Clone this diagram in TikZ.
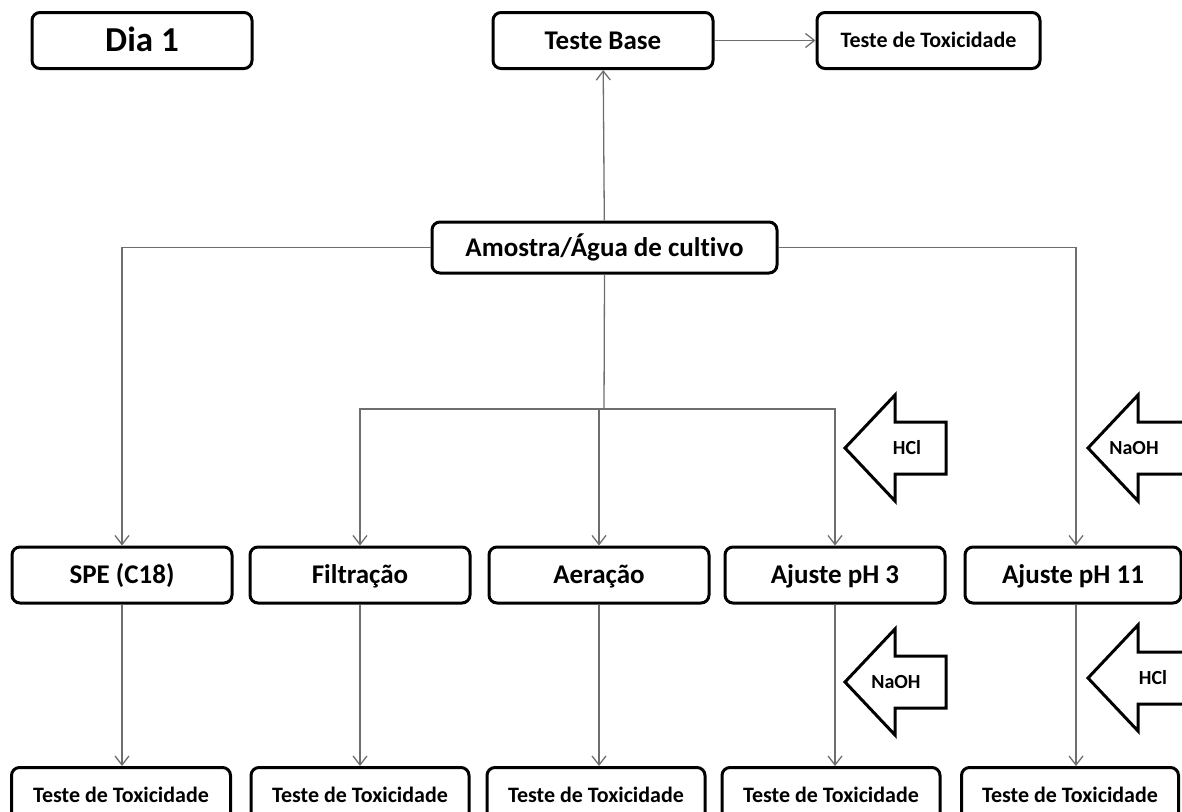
\documentclass[tikz,border=0pt]{standalone}
\usepackage{fontspec}
\setmainfont{Carlito}[Ligatures=NoCommon]
\usetikzlibrary{arrows.meta}
\definecolor{LINE}{HTML}{6E6E6E}

\begin{document}
\begin{tikzpicture}[x=1pt, y=-1pt,
    box/.style={draw=black, line width=3pt, rounded corners=8pt, inner sep=0pt,
        text height=17.4pt, text depth=0pt,
        font=\bfseries\fontsize{27}{30}\selectfont, minimum width=220pt, minimum height=56pt},
    toxbox/.style={box, text height=14.2pt, font=\bfseries\fontsize{22}{24}\selectfont},
    link/.style={draw=LINE, line width=1.3pt, -{Straight Barb[length=9pt, width=14pt]}},
    reagent/.style={draw=black, line width=3pt, line join=miter},
    reagentlabel/.style={inner sep=0pt, text height=13pt, text depth=0pt,
        font=\bfseries\fontsize{20}{24}\selectfont}]
            \useasboundingbox (0,0) rectangle (1182,811);
            \clip (0,0) rectangle (1182,811);

            \node[box, text height=22.5pt, font=\bfseries\fontsize{35}{38}\selectfont] (dia) at (142,40.5) {Dia 1};
            \node[box] (base) at (603,40.5) {Teste Base};
            \node[toxbox, minimum width=223pt] (toxbase) at (928.5,40.5) {Teste de Toxicidade};
            \node[box, minimum width=345pt, minimum height=51pt] (amostra) at (604.5,247.5) {Amostra/Água de cultivo};

            \node[box] (spe) at (122,575) {SPE (C18)};
            \node[box] (filt) at (360,575) {Filtração};
            \node[box] (aer) at (599,575) {Aeração};
            \node[box] (ph3) at (835,575) {Ajuste pH 3};
            \node[box, minimum width=216pt] (ph11) at (1073,575) {Ajuste pH 11};

            \node[toxbox, minimum width=219pt] (toxspe) at (121,795.5) {Teste de Toxicidade};
            \node[toxbox, minimum width=218pt] (toxfilt) at (360,795.5) {Teste de Toxicidade};
            \node[toxbox, minimum width=218pt] (toxaer) at (596,795.5) {Teste de Toxicidade};
            \node[toxbox, minimum width=218pt] (toxph3) at (831,795.5) {Teste de Toxicidade};
            \node[toxbox, minimum width=217pt] (toxph11) at (1070,795.5) {Teste de Toxicidade};

            \coordinate (split) at (604,409);

            \draw[link] (amostra) -- (base);
            \draw[link] (base) -- (toxbase);
            \draw[link] (amostra.west) -| (spe.north);
            \draw[link] (amostra.east) -| ([xshift=3pt]ph11.north);
            \draw[draw=LINE, line width=1.3pt] (amostra.south) -- (split);
            \draw[link] (split) -| (filt.north);
            \draw[link] (split) -| (ph3.north);
            \draw[link] (split -| aer.north) -- (aer.north);

            \draw[link] (spe) -- (spe |- toxspe.north);
            \draw[link] (filt) -- (filt |- toxfilt.north);
            \draw[link] (aer) -- (aer |- toxaer.north);
            \draw[link] (ph3) -- (ph3 |- toxph3.north);
            \draw[link] ([xshift=3pt]ph11.south) -- ([xshift=3pt]ph11.south |- toxph11.north);

            \draw[reagent] (845,448) -- ++(50,-53) -- ++(0,27) -- ++(51,0) -- ++(0,52) -- ++(-51,0) -- ++(0,27) -- cycle;
            \node[reagentlabel] (hcltop) at (907,448) {HCl};
            \draw[reagent] (1088,448) -- ++(50,-53) -- ++(0,27) -- ++(51,0) -- ++(0,52) -- ++(-51,0) -- ++(0,27) -- cycle;
            \node[reagentlabel] (naohtop) at (1134,448) {NaOH};

            \draw[reagent] (845,682) -- ++(50,-53) -- ++(0,27) -- ++(51,0) -- ++(0,52) -- ++(-51,0) -- ++(0,27) -- cycle;
            \node[reagentlabel] (naohlow) at (896,682) {NaOH};
            \draw[reagent] (1088,678) -- ++(50,-53) -- ++(0,27) -- ++(51,0) -- ++(0,52) -- ++(-51,0) -- ++(0,27) -- cycle;
            \node[reagentlabel] (hcllow) at (1153,678) {HCl};
        \end{tikzpicture}
\end{document}
